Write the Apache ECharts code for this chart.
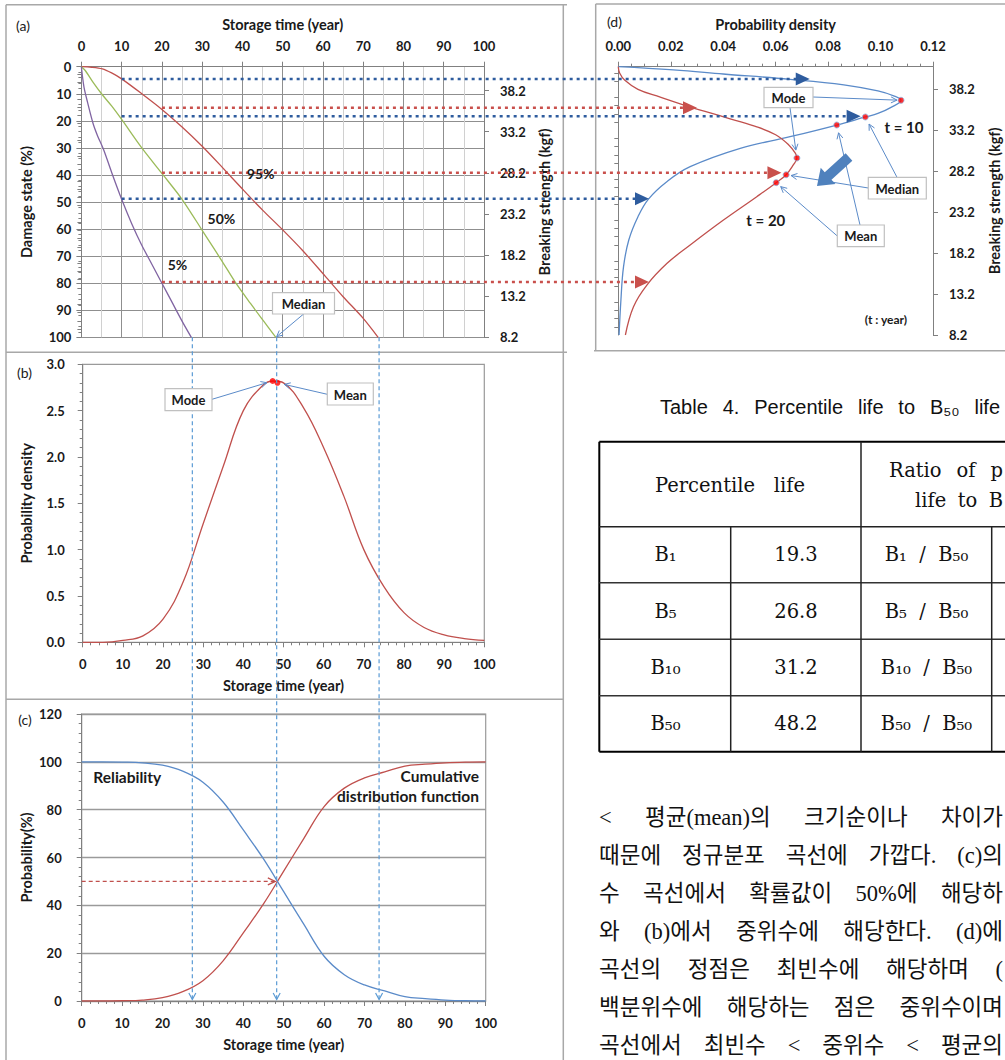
<!DOCTYPE html>
<html>
<head>
<meta charset="utf-8">
<script src="https://cdn.jsdelivr.net/npm/echarts@6/dist/echarts.min.js"></script>
<style>
html,body{margin:0;padding:0;background:#fff;overflow:hidden;}
#chart{width:1005px;height:1060px;}
</style>
</head>
<body>
<div id="chart"></div>
<script>
// ================= DATA =================
// (a) damage-state percentile curves: storage time (year) -> damage state (%)
const p5Years   = [0, 0.3, 0.7, 1.5, 2.9, 4, 5.5, 7.5, 10, 12.5, 15, 17.5, 20, 22.5, 25, 27.3];
const p5Damage  = [0, 4, 8, 13, 21, 25.5, 30.6, 39, 49, 58, 66, 73, 80, 87, 94, 100];
const p50Years  = [0, 1, 3, 5, 7.5, 10, 15, 20.3, 25, 30.4, 35, 38.3, 42, 45, 48.3];
const p50Damage = [0, 1.5, 6, 10, 14.5, 19.5, 30, 40, 49, 61.4, 72, 79.8, 87.5, 93.5, 100];
const p95Years  = [0, 2.5, 5.2, 7.5, 10, 15, 20, 25, 30, 35, 40, 45, 50, 55, 60.6, 65, 70, 73.7];
const p95Damage = [0, 0.2, 0.8, 2.3, 4.5, 10, 15.8, 22.3, 29.4, 37.2, 45.2, 53, 60.3, 68, 77.5, 85, 93, 100];

// (a)/(d) breaking strength axis tick labels (kgf)
const strengthTicks = [8.2, 13.2, 18.2, 23.2, 28.2, 33.2, 38.2];

// (b) probability density vs storage time
const densYears = [0, 5, 10, 15, 20, 25, 30, 35, 40, 45, 47.5, 50, 55, 60, 65, 70, 75, 80, 85, 90, 95, 100];
const densityB  = [0, 0, 0.02, 0.07, 0.25, 0.65, 1.28, 1.90, 2.50, 2.78, 2.82, 2.80, 2.53, 2.10, 1.58, 1.00, 0.60, 0.32, 0.16, 0.08, 0.04, 0.02];
const bMode = [47.3, 2.82];
const bMean = [48.5, 2.80];

// (c) probability (%) vs storage time
const years = [0, 5, 10, 15, 20, 25, 30, 35, 40, 45, 50, 55, 60, 65, 70, 75, 80, 85, 90, 95, 100];
const cdfC  = [0, 0, 0.1, 0.4, 1.4, 3.9, 8.5, 16.8, 28.5, 40.6, 54.3, 68, 81.3, 89, 93.3, 95.8, 98.2, 99.0, 99.6, 99.9, 100];
const relC  = [100, 100, 99.9, 99.6, 98.6, 96.1, 91.5, 83.2, 71.5, 59.4, 45.7, 32, 18.7, 11, 6.7, 4.2, 1.8, 1.0, 0.4, 0.1, 0];

// percentile lives (year) marked by the vertical guides
const lifeB5 = 27.3, lifeB50 = 48.3, lifeB95 = 73.8;

// (d) probability density of breaking strength, t = 10 and t = 20 years
const t10Density  = [0, 0.021, 0.040, 0.0655, 0.0860, 0.0990, 0.1050, 0.1078, 0.1040, 0.0990, 0.0942, 0.0833, 0.0655, 0.0465, 0.0274, 0.0185, 0.0115, 0.0075, 0.0040, 0.0020, 0.0010, 0.0003];
const t10Strength = [40.96, 40.56, 40.07, 39.42, 38.75, 38.0, 37.4, 36.86, 36.0, 35.25, 34.82, 33.84, 32.41, 30.99, 28.75, 26.92, 24.8, 22.64, 19.8, 16.54, 12.47, 8.2];
const t20Density  = [0, 0.0005, 0.0025, 0.0075, 0.0160, 0.0273, 0.0405, 0.0520, 0.0600, 0.0650, 0.0675, 0.0681, 0.0668, 0.0640, 0.0602, 0.0528, 0.0401, 0.0274, 0.0186, 0.0109, 0.0058, 0.0027];
const t20Strength = [40.96, 40.2, 39.3, 38.2, 37.25, 36.05, 34.8, 33.7, 32.65, 31.4, 30.4, 29.81, 29.0, 27.77, 26.8, 25.09, 22.24, 19.19, 16.95, 14.3, 11.66, 8.2];
const t10Mode = [0.1078, 36.86], t10Median = [0.0942, 34.82], t10Mean = [0.0833, 33.84];
const t20Mode = [0.0681, 29.81], t20Median = [0.0640, 27.77], t20Mean = [0.0602, 26.80];

// guide lines from (a) to (d): start (year, damage %) and arrow tip density
const guideYears   = [10, 20, 10, 20, 10, 20];
const guideDamage  = [4.5, 15.2, 18.3, 39.2, 48.8, 79.6];
const guideDensity = [0.0730, 0.0300, 0.0924, 0.0622, 0.0117, 0.0117];

// Table 4
const pctNames = ['B\u2081', 'B\u2085', 'B\u2081\u2080', 'B\u2085\u2080'];
const pctLife  = ['19.3', '26.8', '31.2', '48.2'];

// Korean paragraph lines (visible part)
const paraLines = [
  '< 평균(mean)의 크기순이나 차이가',
  '때문에 정규분포 곡선에 가깝다. (c)의',
  '수 곡선에서 확률값이 50%에 해당하',
  '와 (b)에서 중위수에 해당한다. (d)에',
  '곡선의 정점은 최빈수에 해당하며 (',
  '백분위수에 해당하는 점은 중위수이며',
  '곡선에서 최빈수 < 중위수 < 평균의'
];
const paraRight = [1003, 1003, 1003, 1003, 1003, 1003, 1003];

// ================= STYLE =================
const FONT = 'Lato, "Open Sans", sans-serif';
const INK = '#1a1a1a';
const AX = '#808080';
const RED = '#C0504D', BLUE = '#5B8BC9', GREEN = '#9BBB59', PURPLE = '#8064A2';
const DBLUE = '#2E5C9E', DRED = '#C9504C';
const tick = {fontFamily: FONT, fontWeight: 'bold', fontSize: 13, color: INK};
const nameStyle = {fontFamily: FONT, fontWeight: 'bold', fontSize: 14.5, color: INK};
const zip = (a, b) => a.map((v, i) => [v, b[i]]);
const strengthMinor = [];
for (let k = 0; k <= 33; k++) { const v = +(8.2 + k).toFixed(1); if ((k % 5) !== 0 && v < 40.9) strengthMinor.push(v); }
const lineAx = {show: true, onZero: false, lineStyle: {color: AX, width: 1}};
const tk = (o) => Object.assign({show: true, length: 5, lineStyle: {color: AX}}, o || {});

const chart = echarts.init(document.getElementById('chart'), null, {renderer: 'svg', width: 1005, height: 1060});

const option = {
  animation: false,
  backgroundColor: '#fff',
  grid: [
    {left: 81.4, top: 66.7, width: 402.6, height: 270.6, show: false},
    {left: 82.7, top: 364.3, width: 401.6, height: 278, show: true, borderColor: '#9a9a9a', borderWidth: 1.2},
    {left: 81.7, top: 714, width: 404, height: 287, show: true, borderColor: '#9a9a9a', borderWidth: 1.2},
    {left: 618.3, top: 66.7, width: 314.7, height: 268.3, show: false}
  ],
  xAxis: [
    {gridIndex: 0, type: 'value', position: 'top', min: 0, max: 100, interval: 10,
     name: 'Storage time (year)', nameLocation: 'middle', nameGap: 35, nameTextStyle: nameStyle,
     axisLine: lineAx, axisTick: tk(), minorTick: {show: false, splitNumber: 2},
     axisLabel: Object.assign({margin: 14}, tick),
     splitLine: {show: true, lineStyle: {color: '#8f8f8f', width: 1}},
     minorSplitLine: {show: true, lineStyle: {color: '#d0d0d0', width: 1}}},
    {gridIndex: 1, type: 'value', position: 'bottom', min: 0, max: 100, interval: 10,
     name: 'Storage time (year)', nameLocation: 'middle', nameGap: 36, nameTextStyle: nameStyle,
     axisLine: lineAx, axisTick: tk(), minorTick: {show: true, splitNumber: 5, length: 3, lineStyle: {color: AX}},
     axisLabel: Object.assign({margin: 15}, tick), splitLine: {show: false}},
    {gridIndex: 2, type: 'value', position: 'bottom', min: 0, max: 100, interval: 10,
     name: 'Storage time (year)', nameLocation: 'middle', nameGap: 36, nameTextStyle: nameStyle,
     axisLine: lineAx, axisTick: tk(), minorTick: {show: true, splitNumber: 5, length: 3, lineStyle: {color: AX}},
     axisLabel: Object.assign({margin: 15}, tick), splitLine: {show: false}},
    {gridIndex: 3, type: 'value', position: 'top', min: 0, max: 0.12, interval: 0.02,
     name: 'Probability density', nameLocation: 'middle', nameGap: 35, nameTextStyle: nameStyle,
     axisLine: lineAx, axisTick: tk(), minorTick: {show: true, splitNumber: 4, length: 3, lineStyle: {color: AX}},
     axisLabel: Object.assign({margin: 14, formatter: v => v.toFixed(2)}, tick), splitLine: {show: false}}
  ],
  yAxis: [
    {gridIndex: 0, type: 'value', position: 'left', inverse: true, min: 0, max: 100, interval: 10,
     name: 'Damage state (%)', nameLocation: 'middle', nameGap: 47, nameTextStyle: nameStyle,
     axisLine: lineAx, axisTick: tk(), minorTick: {show: true, splitNumber: 5, length: 3, lineStyle: {color: AX}},
     axisLabel: Object.assign({margin: 10}, tick),
     splitLine: {show: true, lineStyle: {color: '#8f8f8f', width: 1}}},
    {gridIndex: 0, type: 'value', position: 'right', min: 8.2, max: 41.1,
     name: 'Breaking strength (kgf)', nameLocation: 'middle', nameGap: 53, nameTextStyle: nameStyle,
     axisLine: lineAx, axisTick: tk({customValues: strengthTicks}),
     axisLabel: Object.assign({margin: 16, customValues: strengthTicks, formatter: v => v.toFixed(1)}, tick),
     splitLine: {show: false}},
    {gridIndex: 0, type: 'value', position: 'right', min: 8.2, max: 41.1,
     axisLine: {show: false}, axisTick: {show: true, inside: true, length: 4, customValues: strengthMinor, lineStyle: {color: AX}},
     axisLabel: {show: false}, splitLine: {show: false}},
    {gridIndex: 1, type: 'value', position: 'left', min: 0, max: 3, interval: 0.5,
     name: 'Probability density', nameLocation: 'middle', nameGap: 49, nameTextStyle: nameStyle,
     axisLine: lineAx, axisTick: tk(), minorTick: {show: true, splitNumber: 5, length: 3, lineStyle: {color: AX}},
     axisLabel: Object.assign({margin: 18, formatter: v => v.toFixed(1)}, tick), splitLine: {show: false}},
    {gridIndex: 2, type: 'value', position: 'left', min: 0, max: 120, interval: 20,
     name: 'Probability(%)', nameLocation: 'middle', nameGap: 48, nameTextStyle: nameStyle,
     axisLine: lineAx, axisTick: tk(), minorTick: {show: true, splitNumber: 5, length: 3, lineStyle: {color: AX}},
     axisLabel: Object.assign({margin: 20}, tick),
     splitLine: {show: true, lineStyle: {color: '#9a9a9a', width: 1.3}}},
    {gridIndex: 3, type: 'value', position: 'right', min: 8.2, max: 40.96,
     name: 'Breaking strength (kgf)', nameLocation: 'middle', nameGap: 54, nameTextStyle: nameStyle,
     axisLine: lineAx, axisTick: tk({customValues: strengthTicks}),
     axisLabel: Object.assign({margin: 16, customValues: strengthTicks, formatter: v => v.toFixed(1)}, tick),
     splitLine: {show: false}},
    {gridIndex: 3, type: 'value', position: 'right', min: 8.2, max: 40.96,
     axisLine: {show: false}, axisTick: {show: true, inside: true, length: 4, customValues: strengthMinor, lineStyle: {color: AX}},
     axisLabel: {show: false}, splitLine: {show: false}},
    {gridIndex: 3, type: 'value', position: 'left', min: 8.2, max: 40.96,
     axisLine: lineAx, axisTick: {show: false}, axisLabel: {show: false}, splitLine: {show: false}}
  ],
  series: [
    {type: 'line', xAxisIndex: 0, yAxisIndex: 0, data: zip(p95Years, p95Damage), smooth: 0.3, symbol: 'none', lineStyle: {color: RED, width: 1.3}},
    {type: 'line', xAxisIndex: 0, yAxisIndex: 0, data: zip(p50Years, p50Damage), smooth: 0.3, symbol: 'none', lineStyle: {color: GREEN, width: 1.3}},
    {type: 'line', xAxisIndex: 0, yAxisIndex: 0, data: zip(p5Years, p5Damage), smooth: 0.3, symbol: 'none', lineStyle: {color: PURPLE, width: 1.3}},
    {type: 'line', xAxisIndex: 1, yAxisIndex: 3, data: zip(densYears, densityB), smooth: 0.4, symbol: 'none', lineStyle: {color: RED, width: 1.3}},
    {type: 'scatter', xAxisIndex: 1, yAxisIndex: 3, data: [bMode, bMean], symbolSize: 6, itemStyle: {color: '#ff0000'}, z: 5},
    {type: 'line', xAxisIndex: 2, yAxisIndex: 4, data: zip(years, cdfC), smooth: 0.4, symbol: 'none', lineStyle: {color: RED, width: 1.3}},
    {type: 'line', xAxisIndex: 2, yAxisIndex: 4, data: zip(years, relC), smooth: 0.4, symbol: 'none', lineStyle: {color: BLUE, width: 1.3}},
    {type: 'line', xAxisIndex: 3, yAxisIndex: 5, data: zip(t10Density, t10Strength), smooth: 0.4, symbol: 'none', lineStyle: {color: BLUE, width: 1.3}},
    {type: 'line', xAxisIndex: 3, yAxisIndex: 5, data: zip(t20Density, t20Strength), smooth: 0.4, symbol: 'none', lineStyle: {color: RED, width: 1.3}},
    {type: 'scatter', xAxisIndex: 3, yAxisIndex: 5, data: [t10Mode, t10Median, t10Mean, t20Mode, t20Median, t20Mean],
     symbolSize: 6, itemStyle: {color: '#ff0000', borderColor: '#8fb0dd', borderWidth: 1}, z: 5}
  ]
};
chart.setOption(option);

// ================= ANNOTATIONS =================
const gA = {xAxisIndex: 0, yAxisIndex: 0};
const gB = {xAxisIndex: 1, yAxisIndex: 3};
const gC = {xAxisIndex: 2, yAxisIndex: 4};
const gD = {xAxisIndex: 3, yAxisIndex: 5};
const px = (f, p) => chart.convertToPixel(f, p);
const G = [];
const L = (x1, y1, x2, y2, stroke, w, dash) => G.push({type: 'line', z: 100, silent: true, shape: {x1, y1, x2, y2},
  style: {stroke, lineWidth: w, lineDash: dash || null}});
const T = (text, x, y, o) => G.push({type: 'text', z: 102, silent: true, x, y,
  style: Object.assign({text, fontFamily: FONT, fontSize: 14, fontWeight: 'normal', fill: INK,
    align: 'left', textAlign: 'left', verticalAlign: 'middle', textVerticalAlign: 'middle'}, o || {})});
const fixAlign = (o) => { if (o.align) o.textAlign = o.align; return o; };
const POLY = (points, fill, z) => G.push({type: 'polygon', z: z || 101, silent: true, shape: {points}, style: {fill, stroke: null}});
const PL = (points, stroke, w) => G.push({type: 'polyline', z: 101, silent: true, shape: {points}, style: {stroke, lineWidth: w || 1, fill: null}});
function arrow(x1, y1, x2, y2, color, cut) {
  const dx = x2 - x1, dy = y2 - y1, len = Math.hypot(dx, dy), ux = dx / len, uy = dy / len;
  const ex = x2 - ux * cut, ey = y2 - uy * cut, h = 6, w = 3;
  L(x1, y1, ex, ey, color, 1);
  PL([[ex - ux * h - uy * w, ey - uy * h + ux * w], [ex, ey], [ex - ux * h + uy * w, ey - uy * h - ux * w]], color, 1);
}
function box(label, b) {
  G.push({type: 'rect', z: 101, silent: true, shape: {x: b[0], y: b[1], width: b[2], height: b[3]},
    style: {fill: '#fff', stroke: '#c0c0c0', lineWidth: 1.2}});
  T(label, b[0] + b[2] / 2, b[1] + b[3] / 2 + 0.5, fixAlign({align: 'center', fontWeight: 'bold', fontSize: 13}));
}

// panel borders
const BC = '#a8a8a8';
L(6, 4.7, 567, 4.7, BC, 1.5); L(6, 4.7, 6, 1060, BC, 1.5); L(563.3, 4.7, 563.3, 1060, BC, 1.5);
L(6, 352.3, 567, 352.3, BC, 1.5); L(6, 699.3, 563.3, 699.3, BC, 1.5);
L(595.7, 4, 1005, 4, BC, 1.5); L(595.7, 4, 595.7, 351, BC, 1.5); L(594, 350.7, 1005, 350.7, BC, 1.5);

// panel letters
T('(a)', 16, 25); T('(b)', 17, 372.7); T('(c)', 18.3, 719); T('(d)', 607, 21.7);

// (a) curve labels
T('95%', 260.7, 173.3, fixAlign({align: 'center', fontWeight: 'bold', fontSize: 14}));
T('50%', 221.4, 218.3, fixAlign({align: 'center', fontWeight: 'bold', fontSize: 14}));
T('5%', 177.5, 264.3, fixAlign({align: 'center', fontWeight: 'bold', fontSize: 14}));

// vertical dashed guides (a)->(b)->(c)
[lifeB5, lifeB50, lifeB95].forEach(t => {
  const x = px(gB, [t, 0])[0];
  const yTop = px(gA, [t, 100])[1];
  const yBot = px(gC, [t, 0])[1];
  L(x, yTop, x, yBot - 1, '#5B9BD5', 1.2, [4, 3]);
  PL([[x - 3.5, yBot - 8], [x, yBot - 1.5], [x + 3.5, yBot - 8]], '#5B9BD5', 1.2);
});

// red dashed 50% arrow in (c)
(function () {
  const p0 = px(gC, [0, 50]), p1 = px(gC, [lifeB50, 50]);
  L(p0[0], p0[1], p1[0] - 2, p0[1], RED, 1.3, [4, 3]);
  PL([[p1[0] - 9, p0[1] - 3.5], [p1[0] - 1.5, p0[1]], [p1[0] - 9, p0[1] + 3.5]], RED, 1.3);
})();

// dotted guide lines (a) -> (d) with triangle heads
guideYears.forEach((t, i) => {
  const col = i % 2 === 0 ? DBLUE : DRED;
  const s = px(gA, [t, guideDamage[i]]);
  const tipX = px(gD, [guideDensity[i], 20])[0];
  L(s[0], s[1], tipX - 13, s[1], col, 2.5, [3, 4]);
  POLY([[tipX - 14, s[1] - 6.5], [tipX, s[1]], [tipX - 14, s[1] + 6.5]], col, 103);
});

// callouts
const callouts = [
  {label: 'Median', box: [272.5, 292.7, 62, 21.3], arrows: [[[303.6, 314], px(gA, [lifeB50, 100]), 1]]},
  {label: 'Mode', box: [165, 388.7, 47, 22], arrows: [[[212, 399.3], px(gB, bMode), 6]]},
  {label: 'Mean', box: [327.3, 383, 46, 22], arrows: [[[327.3, 394.3], px(gB, bMean), 7]]},
  {label: 'Mode', box: [764, 87.3, 49, 20.3], arrows: [[[813, 97], px(gD, t10Mode), 4], [[790, 107.6], px(gD, t20Mode), 8]]},
  {label: 'Median', box: [868.3, 177.3, 58, 21.7], arrows: [[[897, 177.3], px(gD, t10Median), 8], [[868.3, 188], px(gD, t20Median), 5]]},
  {label: 'Mean', box: [837.3, 225, 47, 21.7], arrows: [[[860, 225], px(gD, t10Mean), 8], [[837.3, 236], px(gD, t20Mean), 6]]}
];
callouts.forEach(c => {
  c.arrows.forEach(a => arrow(a[0][0], a[0][1], a[1][0], a[1][1], '#5B8BC9', a[2]));
  box(c.label, c.box);
});

// block arrow (d)
(function () {
  const tail = [849, 157], tip = [817, 186];
  const dx = tip[0] - tail[0], dy = tip[1] - tail[1], len = Math.hypot(dx, dy), ux = dx / len, uy = dy / len;
  const nx = -uy, ny = ux, sw = 5, hw = 11, hl = 15;
  const bx = tip[0] - ux * hl, by = tip[1] - uy * hl;
  POLY([[tail[0] + nx * sw, tail[1] + ny * sw], [bx + nx * sw, by + ny * sw], [bx + nx * hw, by + ny * hw], tip,
        [bx - nx * hw, by - ny * hw], [bx - nx * sw, by - ny * sw], [tail[0] - nx * sw, tail[1] - ny * sw]], '#4F81BD', 103);
})();

// (d) labels
T('t = 10', 904, 126.7, fixAlign({align: 'center', fontWeight: 'bold', fontSize: 15}));
T('t = 20', 765.8, 220, fixAlign({align: 'center', fontWeight: 'bold', fontSize: 15}));
T('(t : year)', 886, 319, fixAlign({align: 'center', fontWeight: 'bold', fontSize: 12}));

// (c) labels
T('Reliability', 93.3, 777.3, {fontWeight: 'bold', fontSize: 15.5});
T('Cumulative', 479, 776, fixAlign({align: 'right', fontWeight: 'bold', fontSize: 15.5}));
T('distribution function', 479, 796, fixAlign({align: 'right', fontWeight: 'bold', fontSize: 15.5}));

// justified text helper
const mctx = document.createElement('canvas').getContext('2d');
function placeWords(text, family, size, x0, x1, y) {
  const words = text.split(' ');
  mctx.font = size + 'px ' + family;
  const widths = words.map(w => mctx.measureText(w).width);
  const total = widths.reduce((a, b) => a + b, 0);
  const gap = words.length > 1 ? (x1 - x0 - total) / (words.length - 1) : 0;
  let x = x0;
  words.forEach((w, i) => { T(w, x, y, {fontFamily: family, fontSize: size, fill: '#111'}); x += widths[i] + gap; });
}

// Table 4
const SERIF = '"DejaVu Serif", "Liberation Serif", serif';
const TS = 19.5;
placeWords('Table 4. Percentile life to B\u2085\u2080 life', '"Liberation Sans", Arial, sans-serif', 20, 660, 1000, 406.7);
L(599.3, 441.7, 1005, 441.7, '#000', 2); L(599.3, 751.7, 1005, 751.7, '#000', 2); L(599.3, 441.7, 599.3, 751.7, '#000', 2);
L(599.3, 526.7, 1005, 526.7, '#222', 1.5);
[582.7, 639.3, 695.7].forEach(y => L(599.3, y, 1005, y, '#333', 1.5));
L(861, 441.7, 861, 751.7, '#222', 1.5);
L(730.7, 526.7, 730.7, 751.7, '#222', 1.5);
L(991.7, 526.7, 991.7, 751.7, '#222', 1.5);
placeWords('Percentile life', SERIF, TS, 655, 805, 485);
placeWords('Ratio of p', SERIF, TS, 889, 1003, 470);
placeWords('life to B', SERIF, TS, 915, 1003, 500);
const rowY = [554.7, 611, 667.5, 723.7];
pctNames.forEach((nm, i) => {
  T(nm, 665.5, rowY[i], fixAlign({align: 'center', fontFamily: SERIF, fontSize: TS, fill: '#111'}));
  T(pctLife[i], 796, rowY[i], fixAlign({align: 'center', fontFamily: SERIF, fontSize: TS, fill: '#111'}));
  T(nm + '  /  B\u2085\u2080', 926.5, rowY[i], fixAlign({align: 'center', fontFamily: SERIF, fontSize: TS, fill: '#111'}));
});

// Korean paragraph
const KFONT = '"Liberation Serif", "Noto Sans CJK KR", serif';
paraLines.forEach((ln, i) => placeWords(ln, KFONT, 22.5, 599, paraRight[i], 817 + 38 * i));

chart.setOption({graphic: {elements: G}});
</script>
</body>
</html>
